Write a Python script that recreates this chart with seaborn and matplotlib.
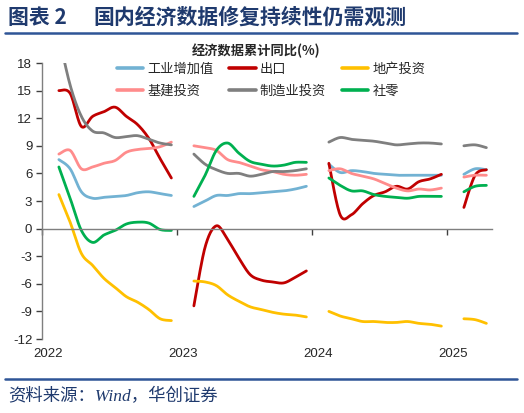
import numpy as np
import pandas as pd
import matplotlib
matplotlib.use("Agg")
import matplotlib.pyplot as plt
from matplotlib.lines import Line2D
import seaborn as sns

sns.set_theme(style="white")
plt.rcParams["font.family"] = ["Liberation Sans", "Noto Sans CJK SC", "DejaVu Sans"]
plt.rcParams["axes.unicode_minus"] = False

# -----------------------------------------------------------------------------
# Data (cumulative y/y, %), Jan merged into Feb
# -----------------------------------------------------------------------------
months = [
    "2022-02", "2022-03", "2022-04", "2022-05", "2022-06", "2022-07",
    "2022-08", "2022-09", "2022-10", "2022-11", "2022-12",
    "2023-02", "2023-03", "2023-04", "2023-05", "2023-06", "2023-07",
    "2023-08", "2023-09", "2023-10", "2023-11", "2023-12",
    "2024-02", "2024-03", "2024-04", "2024-05", "2024-06", "2024-07",
    "2024-08", "2024-09", "2024-10", "2024-11", "2024-12",
    "2025-02", "2025-03", "2025-04",
]

iva = [7.5, 6.5, 4.0, 3.3, 3.4, 3.5, 3.6, 3.9, 4.0, 3.8, 3.6,
       2.4, 3.0, 3.6, 3.6, 3.8, 3.8, 3.9, 4.0, 4.1, 4.3, 4.6,
       7.0, 6.1, 6.3, 6.2, 6.0, 5.9, 5.8, 5.8, 5.8, 5.8, 5.8,
       5.9, 6.5, 6.4]
exports = [15.0, 14.7, 11.1, 12.2, 12.7, 13.2, 12.2, 11.3, 9.8, 7.6, 5.5,
           -8.4, -2.0, 0.3, -1.2, -3.2, -5.0, -5.6, -5.8, -5.9, -5.3, -4.6,
           7.1, 1.5, 1.5, 2.7, 3.6, 4.0, 4.6, 4.3, 5.1, 5.4, 5.9,
           2.3, 5.8, 6.4]
property_inv = [3.7, 0.7, -2.7, -4.0, -5.4, -6.4, -7.4, -8.0, -8.8, -9.8, -10.0,
                -5.7, -5.8, -6.2, -7.2, -7.9, -8.5, -8.8, -9.1, -9.3, -9.4, -9.6,
                -9.0, -9.5, -9.8, -10.1, -10.1, -10.2, -10.2, -10.1, -10.3, -10.4, -10.6,
                -9.8, -9.9, -10.3]
infra_inv = [8.1, 8.5, 6.5, 6.7, 7.1, 7.4, 8.3, 8.6, 8.7, 8.9, 9.4,
             9.0, 8.8, 8.5, 7.5, 7.2, 6.8, 6.4, 6.2, 5.9, 5.8, 5.9,
             6.3, 6.5, 6.0, 5.7, 5.4, 4.9, 4.4, 4.1, 4.3, 4.2, 4.4,
             5.6, 5.8, 5.8]
manu_inv = [20.9, 15.6, 12.2, 10.6, 10.4, 9.9, 10.0, 10.1, 9.7, 9.3, 9.1,
            8.1, 7.0, 6.4, 6.0, 6.0, 5.7, 5.9, 6.2, 6.2, 6.3, 6.5,
            9.4, 9.9, 9.7, 9.6, 9.5, 9.3, 9.1, 9.2, 9.3, 9.3, 9.2,
            9.0, 9.1, 8.8]
retail = [6.7, 3.3, -0.2, -1.5, -0.7, -0.2, 0.5, 0.7, 0.6, -0.1, -0.2,
          3.5, 5.8, 8.5, 9.3, 8.2, 7.3, 7.0, 6.8, 6.9, 7.2, 7.2,
          5.5, 4.7, 4.1, 4.1, 3.7, 3.5, 3.4, 3.3, 3.5, 3.5, 3.5,
          4.0, 4.6, 4.7]

series_names = ["工业增加值", "出口", "地产投资", "基建投资", "制造业投资", "社零"]
series_values = [iva, exports, property_inv, infra_inv, manu_inv, retail]
colors = ["#72B2D3", "#C00000", "#FFC000", "#FF8C8C", "#7F7F7F", "#00B050"]
year_labels = ["2022", "2023", "2024", "2025"]
y_ticks = [-12, -9, -6, -3, 0, 3, 6, 9, 12, 15, 18]


# -----------------------------------------------------------------------------
# Functions
# -----------------------------------------------------------------------------


def smooth(xs, ys, n=16):
    # Excel-like smoothed line (cubic Bezier through the points)
    P = np.column_stack([xs, ys]).astype(float)
    k = len(P)
    if k < 2:
        return P[:, 0], P[:, 1]
    t = np.linspace(0, 1, n)[:, None]
    out = []
    for i in range(k - 1):
        a = P[max(i - 1, 0)]
        d = P[min(i + 2, k - 1)]
        c1 = P[i] + (P[i + 1] - a) / 6
        c2 = P[i + 1] - (d - P[i]) / 6
        seg = ((1 - t) ** 3) * P[i] + 3 * ((1 - t) ** 2) * t * c1 \
            + 3 * (1 - t) * t ** 2 * c2 + t ** 3 * P[i + 1]
        out.append(seg if i == 0 else seg[1:])
    out = np.vstack(out)
    return out[:, 0], out[:, 1]


# -----------------------------------------------------------------------------
# Build long table
# -----------------------------------------------------------------------------
per = pd.PeriodIndex(months, freq="M")
xpos = np.asarray((per.year - 2022) * 12 + (per.month - 1) + 0.5)
years = np.asarray(per.year)

rows = []
for name, vals in zip(series_names, series_values):
    vals = np.array(vals, dtype=float)
    for yr in np.unique(years):
        m = years == yr
        sx, sy = smooth(xpos[m], vals[m])
        rows.append(pd.DataFrame({"x": sx, "y": sy, "series": name, "seg": str(yr)}))
df = pd.concat(rows, ignore_index=True)

# -----------------------------------------------------------------------------
# Plot
# -----------------------------------------------------------------------------
W, H = 524, 413
fig = plt.figure(figsize=(W / 100, H / 100), dpi=100)
ax = fig.add_axes([42 / W, 1 - 339 / H, 450 / W, 276 / H])

sns.lineplot(data=df, x="x", y="y", hue="series", units="seg", estimator=None,
             sort=False, hue_order=series_names, palette=colors, linewidth=2.0,
             legend=False, ax=ax)

ax.set_xlim(0, 40)
ax.set_ylim(-12, 18)
ax.set_yticks(y_ticks)
ax.set_yticklabels([str(v) for v in y_ticks], fontsize=9.5)
ax.set_xticks([0, 12, 24, 36])
ax.set_xticklabels([])
ax.set(xlabel=None, ylabel=None)

for s in ["top", "right"]:
    ax.spines[s].set_visible(False)
ax.spines["bottom"].set_position(("data", 0))
for s in ["left", "bottom"]:
    ax.spines[s].set_color("#7F7F7F")
    ax.spines[s].set_linewidth(1.0)
ax.tick_params(axis="both", direction="out", length=4, width=1, color="#404040",
               bottom=True, left=True, pad=3)

for i, lab in enumerate(year_labels):
    ax.text(i * 12 + 0.5, -13.65, lab, ha="center", va="center", fontsize=9.5)

# Legend
handles = [Line2D([0], [0], color=c, lw=2.6) for c in colors]
order = [0, 3, 1, 4, 2, 5]
fig.legend([handles[i] for i in order], [series_names[i] for i in order],
           loc="upper left", bbox_to_anchor=(117 / W, 1 - 63 / H), ncol=3,
           frameon=False, fontsize=9.5, handlelength=2.0, handletextpad=0.3,
           columnspacing=1.2, labelspacing=0.75, borderpad=0, borderaxespad=0)

# Titles and decorations
navy = "#1F3A6E"
fig.text(8 / W, 1 - 17 / H, "图表 2", fontsize=15, fontweight="bold", color=navy,
         va="center", ha="left", family=["Noto Sans CJK SC"])
fig.text(93 / W, 1 - 17 / H, "国内经济数据修复持续性仍需观测", fontsize=15,
         fontweight="bold", color=navy, va="center", ha="left",
         family=["Noto Sans CJK SC"])
fig.add_artist(Line2D([5 / W, 517 / W], [1 - 33 / H, 1 - 33 / H], color="#2F5597",
                      lw=1.8, transform=fig.transFigure))
fig.text(256 / W, 1 - 51 / H, "经济数据累计同比(%)", fontsize=9.5, fontweight="bold",
         ha="center", va="center", family=["Noto Sans CJK SC", "DejaVu Sans"])
fig.add_artist(Line2D([5 / W, 517 / W], [1 - 379 / H, 1 - 379 / H], color="#2F5597",
                      lw=1.8, transform=fig.transFigure))
fig.text(8 / W, 1 - 397 / H, "资料来源：Wind，华创证券", fontsize=12.5, color=navy,
         style="italic", ha="left", va="center",
         family=["Liberation Serif", "Noto Sans CJK SC"])

fig.savefig("out.png", dpi=100)
